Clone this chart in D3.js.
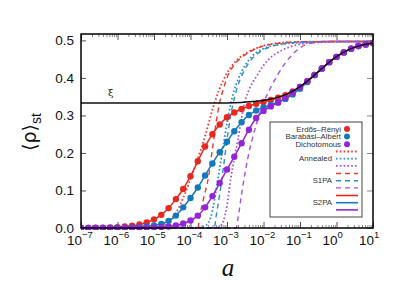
<!DOCTYPE html>
<html>
<head>
<meta charset="utf-8">
<script src="https://cdn.jsdelivr.net/npm/d3@7"></script>
<style>
  body { margin: 0; background: #fff; }
  svg { display: block; font-family: "Liberation Sans", Arial, sans-serif; }
</style>
</head>
<body>
<div id="chart"></div>
<script>
// log10(a) grid of the simulation markers (and S2PA curves)
var markerExp = [-7.0, -6.8, -6.6, -6.4, -6.2, -6.0, -5.8, -5.6, -5.4, -5.2,
  -5.0, -4.8, -4.6, -4.4, -4.2, -4.0, -3.8, -3.6, -3.4, -3.2,
  -3.0, -2.8, -2.6, -2.4, -2.2, -2.0, -1.8, -1.6, -1.4, -1.2,
  -1.0, -0.8, -0.6, -0.4, -0.2, 0.0, 0.2, 0.4, 0.6, 0.8, 1.0];

var erMarkers = [0.0002, 0.0004, 0.0006, 0.0009, 0.0015, 0.0024, 0.0038, 0.006, 0.0095, 0.0147,
  0.023, 0.035, 0.053, 0.077, 0.104, 0.138, 0.178, 0.217, 0.25, 0.276,
  0.295, 0.308, 0.317, 0.325, 0.331, 0.336, 0.341, 0.347, 0.354, 0.364,
  0.376, 0.391, 0.408, 0.425, 0.442, 0.456, 0.468, 0.478, 0.485, 0.489, 0.493];

var baMarkers = [0.0001, 0.0001, 0.0002, 0.0003, 0.0004, 0.0006, 0.001, 0.0015, 0.0025, 0.004,
  0.007, 0.011, 0.019, 0.033, 0.055, 0.08, 0.108, 0.14, 0.172, 0.202,
  0.23, 0.258, 0.282, 0.301, 0.313, 0.321, 0.328, 0.335, 0.344, 0.356,
  0.371, 0.389, 0.407, 0.425, 0.442, 0.456, 0.468, 0.478, 0.485, 0.489, 0.493];

var dichMarkers = [0, 0, 0, 0.0001, 0.0001, 0.0002, 0.0003, 0.0004, 0.0006, 0.0009,
  0.0014, 0.0024, 0.004, 0.007, 0.012, 0.02, 0.033, 0.055, 0.085, 0.12,
  0.156, 0.19, 0.226, 0.262, 0.293, 0.312, 0.324, 0.334, 0.347, 0.361,
  0.376, 0.391, 0.408, 0.425, 0.442, 0.456, 0.468, 0.478, 0.485, 0.489, 0.493];

// annealed approximation (dotted)
var annErExp = [-7, -5.0, -4.8, -4.6, -4.4, -4.2, -4.0, -3.8, -3.6, -3.4, -3.2, -3.0, -2.8, -2.6, -2.4, -2.2, -2.0, -1.8, -1.5, -1.0, 0, 1];
var annEr = [0, 0.002, 0.006, 0.017, 0.04, 0.08, 0.13, 0.185, 0.245, 0.315, 0.372, 0.413, 0.44, 0.458, 0.47, 0.479, 0.486, 0.49, 0.494, 0.496, 0.497, 0.497];
var annBaExp = [-7, -3.8, -3.6, -3.5, -3.4, -3.3, -3.2, -3.1, -3.0, -2.9, -2.8, -2.7, -2.6, -2.4, -2.2, -2.0, -1.8, -1.5, -1.0, 0, 1];
var annBa = [0, 0.001, 0.006, 0.015, 0.045, 0.1, 0.16, 0.22, 0.28, 0.33, 0.368, 0.395, 0.417, 0.448, 0.467, 0.478, 0.485, 0.49, 0.494, 0.497, 0.497];
var annDichExp = [-7, -3.3, -3.2, -3.1, -3.0, -2.9, -2.8, -2.7, -2.6, -2.5, -2.4, -2.2, -2.0, -1.8, -1.6, -1.4, -1.2, -1.0, -0.6, 0, 1];
var annDich = [0, 0, 0.004, 0.018, 0.06, 0.13, 0.185, 0.235, 0.295, 0.34, 0.368, 0.403, 0.433, 0.455, 0.468, 0.478, 0.485, 0.49, 0.494, 0.496, 0.497];

// S1PA (dashed)
var s1ErExp = [-7, -3.8, -3.75, -3.65, -3.5, -3.4, -3.3, -3.2, -3.1, -3.0, -2.8, -2.6, -2.4, -2.2, -2.0, -1.5, -1.0, 0, 1];
var s1Er = [0, 0, 0.03, 0.075, 0.14, 0.21, 0.28, 0.335, 0.37, 0.4, 0.435, 0.455, 0.468, 0.478, 0.485, 0.493, 0.496, 0.497, 0.497];
var s1BaExp = [-7, -3.35, -3.3, -3.2, -3.1, -3.0, -2.9, -2.8, -2.7, -2.6, -2.4, -2.2, -2.0, -1.5, -1.0, 0, 1];
var s1Ba = [0, 0, 0.03, 0.09, 0.16, 0.235, 0.3, 0.345, 0.38, 0.405, 0.44, 0.462, 0.475, 0.49, 0.495, 0.497, 0.497];
var s1DichExp = [-7, -2.75, -2.7, -2.6, -2.5, -2.4, -2.3, -2.2, -2.1, -2.0, -1.8, -1.6, -1.4, -1.2, -1.0, -0.8, -0.5, 0, 1];
var s1Dich = [0, 0, 0.025, 0.09, 0.15, 0.2, 0.24, 0.275, 0.305, 0.333, 0.375, 0.41, 0.44, 0.463, 0.48, 0.49, 0.495, 0.497, 0.497];

// xi curve (black)
var xiExp = [-7, -3, -2.6, -2.4, -2.2, -2.0, -1.8, -1.6, -1.4, -1.2, -1.0, -0.8, -0.6, -0.4, -0.2, 0, 0.2, 0.4, 0.6, 0.8, 1.0];
var xiVals = [0.3333, 0.3333, 0.3345, 0.3364, 0.338, 0.340, 0.3437, 0.3487, 0.3555, 0.3648, 0.3768, 0.3914, 0.408, 0.425, 0.4419, 0.4565, 0.4685, 0.4779, 0.4847, 0.4895, 0.493];

var decades = [-7, -6, -5, -4, -3, -2, -1, 0, 1];
var yTicks = [0, 0.1, 0.2, 0.3, 0.4, 0.5];

var seriesNames = ["Erd\u0151s\u2013R\u00e9nyi", "Barab\u00e1si\u2013Albert", "Dichotomous"];
var colors = ["#e8281e", "#1478bc", "#9424d8"];
var lightColors = ["#ee3a2c", "#2a8ccc", "#a850e0"];

var svgWidth = 407;
var svgHeight = 285;
var margin = { top: 34, right: 34, bottom: 57, left: 81 };
var width = svgWidth - margin.left - margin.right;
var height = svgHeight - margin.top - margin.bottom;

var svg = d3.select("#chart").append("svg")
  .attr("width", svgWidth)
  .attr("height", svgHeight);

var chartGroup = svg.append("g")
  .attr("transform", `translate(${margin.left}, ${margin.top})`);

var xScale = d3.scaleLog().domain([1e-7, 10]).range([0, width]);
var yScale = d3.scaleLinear().domain([0, 0.517]).range([height, 0]);

function pairs(exps, vals) {
  return exps.map(function(e, i) { return [Math.pow(10, e), vals[i]]; });
}

var line = d3.line()
  .x(d => xScale(d[0]))
  .y(d => yScale(d[1]))
  .curve(d3.curveMonotoneX);

svg.append("defs").append("clipPath").attr("id", "clip")
  .append("rect").attr("width", width).attr("height", height + 4).attr("y", -2);

// minor ticks
var minorVals = [];
decades.slice(0, -1).forEach(function(e) {
  for (var k = 2; k <= 9; k++) minorVals.push(k * Math.pow(10, e));
});

chartGroup.append("g")
  .attr("class", "minor")
  .attr("transform", `translate(0, ${height})`)
  .call(d3.axisBottom(xScale).tickValues(minorVals).tickSize(-3).tickFormat(""));
chartGroup.append("g")
  .attr("class", "minor")
  .call(d3.axisTop(xScale).tickValues(minorVals).tickSize(-3).tickFormat(""));

// major ticks
chartGroup.append("g")
  .attr("class", "major")
  .attr("transform", `translate(0, ${height})`)
  .call(d3.axisBottom(xScale).tickValues(decades.map(e => Math.pow(10, e))).tickSize(-6).tickFormat(""));
chartGroup.append("g")
  .attr("class", "major")
  .call(d3.axisTop(xScale).tickValues(decades.map(e => Math.pow(10, e))).tickSize(-6).tickFormat(""));

chartGroup.append("g")
  .attr("class", "yaxis")
  .call(d3.axisLeft(yScale).tickValues(yTicks).tickSize(-5).tickPadding(7).tickFormat(d3.format(".1f")));
chartGroup.append("g")
  .attr("class", "minor")
  .attr("transform", `translate(${width}, 0)`)
  .call(d3.axisRight(yScale).tickValues(yTicks).tickSize(-6).tickFormat(""));

chartGroup.selectAll(".domain").remove();
chartGroup.selectAll(".minor line").attr("stroke", "#888").attr("stroke-width", 1);
chartGroup.selectAll(".major line").attr("stroke", "#555").attr("stroke-width", 1);
chartGroup.selectAll(".yaxis line").attr("stroke", "#555").attr("stroke-width", 1);
chartGroup.selectAll(".yaxis text").attr("fill", "#111")
  .style("font-size", "13.5px")
  .style("font-family", "'Liberation Sans', Arial, sans-serif");

// x tick labels 10^n
var xLab = chartGroup.append("g").attr("class", "xlabels");
decades.forEach(function(e) {
  var x = xScale(Math.pow(10, e));
  xLab.append("text").attr("x", x + 1).attr("y", height + 17)
    .attr("text-anchor", "end").style("font-size", "13.5px").attr("fill", "#111").text("10");
  xLab.append("text").attr("x", x + 1).attr("y", height + 10)
    .attr("text-anchor", "start").style("font-size", "9.5px").attr("fill", "#111")
    .text(e < 0 ? "\u2212" + (-e) : String(e));
});

var plot = chartGroup.append("g").attr("clip-path", "url(#clip)");

var annealed = [pairs(annErExp, annEr), pairs(annBaExp, annBa), pairs(annDichExp, annDich)];
var s1pa = [pairs(s1ErExp, s1Er), pairs(s1BaExp, s1Ba), pairs(s1DichExp, s1Dich)];
var markers = [pairs(markerExp, erMarkers), pairs(markerExp, baMarkers), pairs(markerExp, dichMarkers)];

annealed.forEach(function(d, i) {
  plot.append("path").datum(d).attr("d", line)
    .attr("fill", "none").attr("stroke", lightColors[i]).attr("stroke-width", 1.8)
    .attr("stroke-dasharray", "1.6,2.2");
});
s1pa.forEach(function(d, i) {
  plot.append("path").datum(d).attr("d", line)
    .attr("fill", "none").attr("stroke", lightColors[i]).attr("stroke-width", 1.4)
    .attr("stroke-dasharray", "5,4");
});
markers.forEach(function(d, i) {
  plot.append("path").datum(d).attr("d", line)
    .attr("fill", "none").attr("stroke", colors[i]).attr("stroke-width", 1.5);
});
markers.forEach(function(d, i) {
  plot.selectAll(".m" + i).data(d).enter().append("circle")
    .attr("class", "m" + i)
    .attr("cx", p => xScale(p[0]))
    .attr("cy", p => yScale(p[1]))
    .attr("r", 3.2)
    .attr("fill", colors[i]);
});

// xi curve
plot.append("path").datum(pairs(xiExp, xiVals)).attr("d", line)
  .attr("fill", "none").attr("stroke", "#111").attr("stroke-width", 1.5);

chartGroup.append("text")
  .attr("x", 27).attr("y", yScale(1 / 3) - 7)
  .style("font-family", "'DejaVu Serif', serif").style("font-size", "10px").attr("fill", "#222")
  .text("\u03be");

// frame
chartGroup.append("rect").attr("width", width).attr("height", height)
  .attr("fill", "none").attr("stroke", "#000").attr("stroke-width", 1.5);

// legend
var legend = chartGroup.append("g").attr("transform", `translate(${270 - margin.left}, ${122 - margin.top})`);
legend.append("rect").attr("width", 92).attr("height", 95)
  .attr("fill", "#fff").attr("stroke", "#444").attr("stroke-width", 1);

seriesNames.forEach(function(name, i) {
  var y = 7 + i * 7.6;
  legend.append("text").attr("x", 71).attr("y", y).attr("dy", "0.35em")
    .attr("text-anchor", "end").style("font-size", "7.8px").attr("fill", "#333").text(name);
  legend.append("circle").attr("cx", 77).attr("cy", y).attr("r", 3).attr("fill", colors[i]);
});

var lineGroups = [
  { label: "Annealed", top: 29.5, dash: "1.6,2.2", width: 1.8, cols: lightColors },
  { label: "S1PA", top: 51.5, dash: "5,4", width: 1.4, cols: lightColors },
  { label: "S2PA", top: 73.5, dash: null, width: 1.6, cols: colors }
];
lineGroups.forEach(function(g) {
  legend.append("text").attr("x", 62).attr("y", g.top + 7.2).attr("dy", "0.35em")
    .attr("text-anchor", "end").style("font-size", "7.8px").attr("fill", "#333").text(g.label);
  g.cols.forEach(function(c, i) {
    legend.append("line")
      .attr("x1", 66).attr("x2", 88)
      .attr("y1", g.top + i * 7.2).attr("y2", g.top + i * 7.2)
      .attr("stroke", c).attr("stroke-width", g.width)
      .attr("stroke-dasharray", g.dash);
  });
});

// axis titles
var yTitle = svg.append("text")
  .attr("transform", "translate(36, 132) rotate(-90)")
  .attr("text-anchor", "middle")
  .attr("fill", "#111")
  .style("font-family", "'DejaVu Sans', 'Liberation Sans', sans-serif")
  .style("font-size", "19px");
yTitle.append("tspan").text("\u27e8\u03c1\u27e9");
yTitle.append("tspan").attr("dy", 5)
  .style("font-size", "14px")
  .style("font-family", "'Liberation Sans', Arial, sans-serif").text("st");

svg.append("text")
  .attr("x", 228).attr("y", 276)
  .attr("text-anchor", "middle")
  .attr("fill", "#111")
  .style("font-family", "'Liberation Serif', 'Times New Roman', serif")
  .style("font-style", "italic").style("font-size", "25px")
  .text("a");
</script>
</body>
</html>
